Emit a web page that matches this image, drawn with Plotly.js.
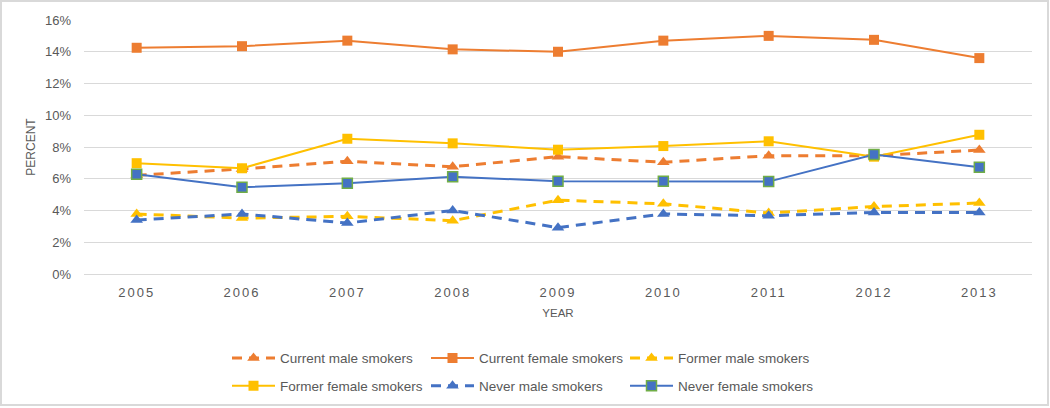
<!DOCTYPE html>
<html><head><meta charset="utf-8">
<script src="https://cdn.plot.ly/plotly-3.0.1.min.js"></script>
<style>
html,body{margin:0;padding:0;background:#fff;}
#wrap{position:relative;width:1050px;height:408px;}
#chart{width:1050px;height:408px;}
#frame{position:absolute;left:0;top:0;width:1049px;height:406px;box-sizing:border-box;border:2px solid #D9D9D9;pointer-events:none;}
.xtick text{letter-spacing:2px;}
</style></head><body>
<div id="wrap"><div id="chart"></div><div id="frame"></div></div>
<script>
const years = ['2005','2006','2007','2008','2009','2010','2011','2012','2013'];
const currentMale   = [6.22, 6.62, 7.10, 6.76, 7.39, 7.04, 7.45, 7.45, 7.81];
const currentFemale = [14.25, 14.35, 14.70, 14.15, 14.00, 14.70, 15.00, 14.75, 13.60];
const formerMale    = [3.78, 3.52, 3.63, 3.36, 4.65, 4.42, 3.84, 4.25, 4.47];
const formerFemale  = [6.98, 6.66, 8.52, 8.23, 7.83, 8.06, 8.36, 7.39, 8.77];
const neverMale     = [3.40, 3.78, 3.21, 4.00, 2.92, 3.78, 3.67, 3.88, 3.88];
const neverFemale   = [6.28, 5.47, 5.72, 6.12, 5.85, 5.85, 5.82, 7.52, 6.72];
const names = ['Current male smokers','Current female smokers','Former male smokers',
               'Former female smokers','Never male smokers','Never female smokers'];

const ORANGE = '#ED7D31', YELLOW = '#FFC000', BLUE = '#4472C4', GREEN = '#70AD47';
const TXT = '#595959', FONT = 'Liberation Sans, Arial, sans-serif';
const DASH = '10px,7px';

function tr(y, name, color, dashed, symbol, leg, borderColor) {
  return {
    type: 'scatter', mode: 'lines+markers', x: years, y: y, name: name,
    legend: leg,
    line: {color: color, width: dashed ? 3 : 2, dash: dashed ? DASH : 'solid'},
    marker: {color: color, symbol: symbol, size: symbol === 'square' ? 10 : 11,
             line: {color: borderColor || color, width: borderColor ? 1.5 : 0}},
    hoverinfo: 'x+y+name'
  };
}

const data = [
  tr(currentMale,   names[0], ORANGE, true,  'triangle-up', 'legend'),
  tr(currentFemale, names[1], ORANGE, false, 'square',      'legend'),
  tr(formerMale,    names[2], YELLOW, true,  'triangle-up', 'legend'),
  tr(formerFemale,  names[3], YELLOW, false, 'square',      'legend2'),
  tr(neverMale,     names[4], BLUE,   true,  'triangle-up', 'legend2'),
  tr(neverFemale,   names[5], BLUE,   false, 'square',      'legend2', GREEN)
];

const plotL = 84, plotR = 1032, plotT = 19.5, plotB = 274.5;
const pw = plotR - plotL, ph = plotB - plotT;
function legY(py) { return (plotB - py) / ph; }
function legX(px) { return (px - plotL) / pw; }

const legBase = {
  orientation: 'h', xanchor: 'left', yanchor: 'middle',
  entrywidth: 141, entrywidthmode: 'pixels', itemwidth: 43,
  font: {family: FONT, size: 13.5, color: TXT}, bgcolor: 'rgba(0,0,0,0)',
  traceorder: 'normal', itemclick: false, itemdoubleclick: false
};

const layout = {
  width: 1050, height: 408,
  margin: {l: plotL, r: 1050 - plotR, t: plotT, b: 408 - plotB, pad: 0, autoexpand: false},
  paper_bgcolor: '#fff', plot_bgcolor: '#fff',
  font: {family: FONT, color: TXT, size: 13},
  showlegend: true,
  xaxis: {
    type: 'category', range: [-0.5, 8.5], showgrid: false, automargin: false,
    showline: true, linecolor: '#D9D9D9', linewidth: 1,
    ticks: '', ticklabelstandoff: 6,
    tickfont: {family: FONT, size: 13, color: TXT},
    title: {text: 'YEAR', font: {family: FONT, size: 11.5, color: TXT}, standoff: 10},
    fixedrange: true
  },
  yaxis: {
    range: [0, 16], dtick: 2, tick0: 0, ticksuffix: '%', automargin: false,
    showgrid: true, gridcolor: '#D9D9D9', gridwidth: 1,
    zeroline: false, showline: false, ticks: '', ticklabelstandoff: 12,
    tickfont: {family: FONT, size: 13, color: TXT},
    title: {text: 'PERCENT', font: {family: FONT, size: 12, color: TXT}, standoff: 6},
    fixedrange: true
  },
  legend: Object.assign({}, legBase, {x: legX(227), y: legY(359)}),
  legend2: Object.assign({}, legBase, {x: legX(227), y: legY(387)})
};

Plotly.newPlot('chart', data, layout, {displayModeBar: false, staticPlot: false});
</script>
</body></html>
